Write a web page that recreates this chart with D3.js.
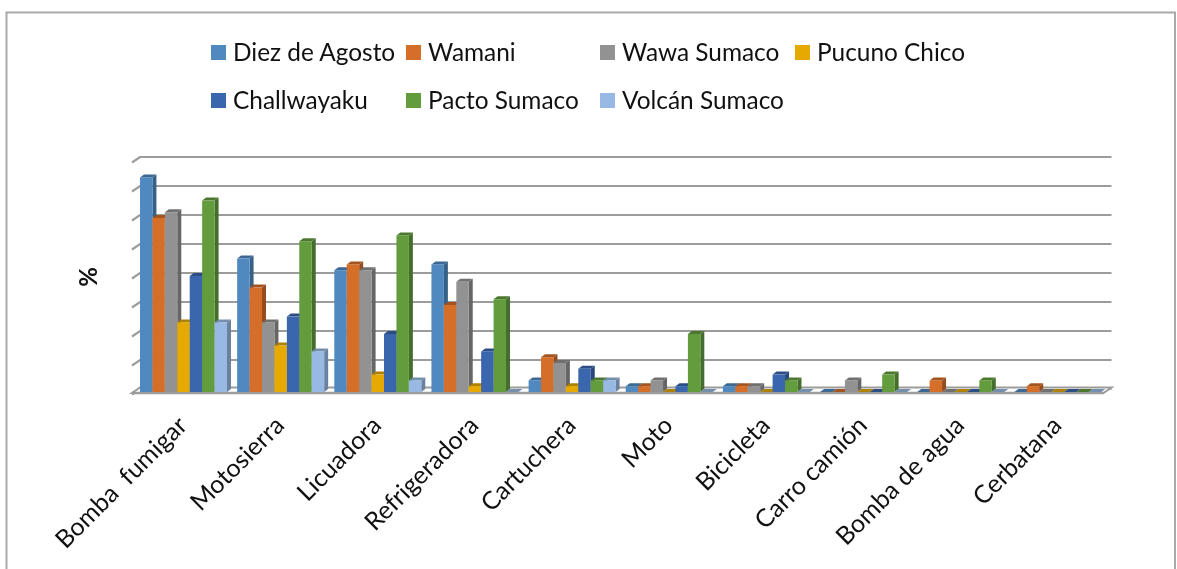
<!DOCTYPE html>
<html>

<head>
  <meta charset="utf-8">
  <title>Equipos por comunidad</title>
  <script src="https://cdn.jsdelivr.net/npm/d3@7"></script>
  <style>
    html, body { margin: 0; padding: 0; background: #fff; }
    svg { display: block; filter: blur(0.4px); }
    text { font-family: Lato, "Open Sans", sans-serif; fill: #111; }
  </style>
</head>

<body>
  <div id="chart"></div>

  <script>
    const categories = ["Bomba  fumigar", "Motosierra", "Licuadora", "Refrigeradora", "Cartuchera",
      "Moto", "Bicicleta", "Carro camión", "Bomba de agua", "Cerbatana"];

    const diezDeAgosto = [37, 23, 21, 22, 2, 1, 1, 0, 0, 0];
    const wamani = [30, 18, 22, 15, 6, 1, 1, 0, 2, 1];
    const wawaSumaco = [31, 12, 21, 19, 5, 2, 1, 2, 0, 0];
    const pucunoChico = [12, 8, 3, 1, 1, 0, 0, 0, 0, 0];
    const challwayaku = [20, 13, 10, 7, 4, 1, 3, 0, 0, 0];
    const pactoSumaco = [33, 26, 27, 16, 2, 10, 2, 3, 2, 0];
    const volcanSumaco = [12, 7, 2, 0, 2, 0, 0, 0, 0, 0];

    const seriesNames = ["Diez de Agosto", "Wamani", "Wawa Sumaco", "Pucuno Chico",
      "Challwayaku", "Pacto Sumaco", "Volcán Sumaco"];
    const seriesValues = [diezDeAgosto, wamani, wawaSumaco, pucunoChico,
      challwayaku, pactoSumaco, volcanSumaco];
    const seriesColors = ["#4f89c0", "#d56e29", "#929292", "#e5a900", "#3a66ae", "#639c3d", "#98b9e3"];
    const tickValues = [0, 5, 10, 15, 20, 25, 30, 35, 40];

    const w = 1177;
    const h = 569;
    const depthX = 8; // fondo del piso
    const depthY = 5.5;
    const barDepthX = 4; // fondo de cada barra
    const barDepthY = 3;
    const gridColor = "#9c9c9c";

    const svg = d3.select("#chart").append("svg")
      .attr("width", w)
      .attr("height", h);

    // Marco del grafico (abajo queda cortado)
    svg.append("path")
      .attr("d", "M6.5," + h + "V12.5H1175V" + h)
      .attr("fill", "none")
      .attr("stroke", "#a9a9a9")
      .attr("stroke-width", 2);

    const x = d3.scaleBand().domain(categories).range([132, 1103.5]);
    const xSeries = d3.scaleBand().domain(seriesNames).range([8, 95]);
    const y = d3.scaleLinear().domain([0, 40]).range([392, 160]);

    // Lineas de la grilla con su marca inclinada
    const grid = svg.append("g");
    grid.selectAll("path")
      .data(tickValues)
      .enter()
      .append("path")
      .attr("d", function (d) {
        const back = y(d) - 3;
        return "M" + x.range()[0] + "," + (back + depthY) + "L" + (x.range()[0] + depthX) + "," + back +
          "H" + (x.range()[1] + depthX);
      })
      .attr("fill", "none")
      .attr("stroke", gridColor)
      .attr("stroke-width", 2.2);

    // Piso
    svg.append("path")
      .attr("d", d3.line()([
        [x.range()[0], y(0) + 1], [x.range()[1], y(0) + 1],
        [x.range()[1] + depthX, y(0) + 1 - depthY], [x.range()[0] + depthX, y(0) + 1 - depthY]
      ]) + "Z")
      .attr("fill", "#fff")
      .attr("stroke", gridColor)
      .attr("stroke-width", 2);

    // Linea frontal del eje
    svg.append("line")
      .attr("x1", x.range()[0])
      .attr("x2", x.range()[1])
      .attr("y1", y(0) + 1)
      .attr("y2", y(0) + 1)
      .attr("stroke", gridColor)
      .attr("stroke-width", 2.5);

    // Barras 3D: lado, tapa y frente
    categories.forEach(function (cat, c) {
      seriesNames.forEach(function (name, s) {
        const value = seriesValues[s][c];
        const x0 = x(cat) + xSeries(name);
        const x1 = x0 + xSeries.bandwidth();
        const y0 = y(value);
        const y1 = y(0);
        const bar = svg.append("g");
        const base = d3.rgb(seriesColors[s]);

        if (value > 0) {
          bar.append("path")
            .attr("d", d3.line()([[x1, y0], [x1 + barDepthX, y0 - barDepthY], [x1 + barDepthX, y1 - barDepthY], [x1, y1]]) + "Z")
            .attr("fill", base.darker(1));
        }
        bar.append("path")
          .attr("d", d3.line()([[x0, y0], [x0 + barDepthX, y0 - barDepthY], [x1 + barDepthX, y0 - barDepthY], [x1, y0]]) + "Z")
          .attr("fill", base.darker(0.75));
        bar.append("rect")
          .attr("x", x0)
          .attr("y", y0)
          .attr("width", xSeries.bandwidth())
          .attr("height", y1 - y0)
          .attr("fill", base);
      });
    });

    // Etiquetas de categorias
    svg.selectAll(".cat")
      .data(categories)
      .enter()
      .append("text")
      .attr("class", "cat")
      .attr("text-anchor", "end")
      .attr("xml:space", "preserve")
      .attr("font-size", "25px")
      .attr("transform", function (d) {
        return "translate(" + (x(d) + x.bandwidth() / 2 + 8) + ",427) rotate(-45)";
      })
      .text(function (d) { return d; });

    // Titulo del eje
    svg.append("text")
      .attr("text-anchor", "middle")
      .attr("font-size", "24px")
      .attr("font-weight", "bold")
      .attr("transform", "translate(97,277) rotate(-90)")
      .text("%");

    // Leyenda
    const legendX = [211, 406, 600, 795, 211, 406, 600];
    const legendY = [45, 45, 45, 45, 93, 93, 93];
    const legend = svg.selectAll(".legend")
      .data(seriesNames)
      .enter()
      .append("g")
      .attr("class", "legend")
      .attr("transform", function (d, i) {
        return "translate(" + legendX[i] + "," + legendY[i] + ")";
      });

    legend.append("rect")
      .attr("width", 15)
      .attr("height", 15)
      .attr("fill", function (d, i) { return seriesColors[i]; });

    legend.append("text")
      .attr("x", 22)
      .attr("y", 16)
      .attr("font-size", "24.4px")
      .text(function (d) { return d; });
  </script>
</body>

</html>
